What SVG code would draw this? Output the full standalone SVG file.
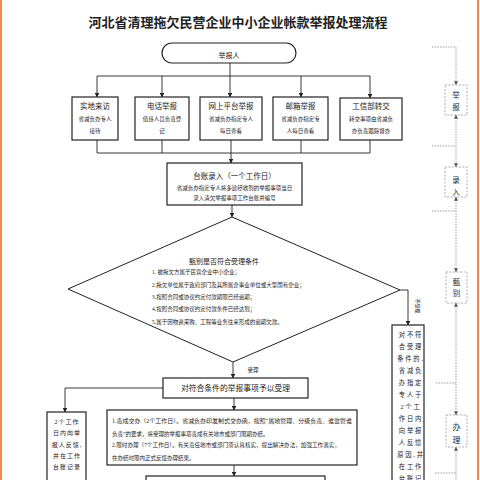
<svg xmlns="http://www.w3.org/2000/svg" width="480" height="480" viewBox="0 0 480 480">
<defs>
<marker id="ah" viewBox="0 0 6 6" refX="5.5" refY="3" markerWidth="4.5" markerHeight="4.5" orient="auto-start-reverse" markerUnits="userSpaceOnUse">
<path d="M0,0 L6,3 L0,6 Z" fill="#222"/>
</marker>
<marker id="ahg" viewBox="0 0 6 6" refX="5.5" refY="3" markerWidth="4" markerHeight="4" orient="auto-start-reverse" markerUnits="userSpaceOnUse">
<path d="M0,0 L6,3 L0,6 Z" fill="#555"/>
</marker>
<style>
.box{fill:#fff;stroke:#222;stroke-width:1.2}
.ln{fill:none;stroke:#222;stroke-width:0.9}
.dl{fill:none;stroke:#777;stroke-width:0.7;stroke-dasharray:1.5 1.2}
.db{fill:#fff;stroke:#999;stroke-width:0.8;stroke-dasharray:2 1.5}
.t{font-family:"Liberation Serif","Noto Sans CJK SC",serif;fill:#222;text-anchor:middle}
.s{font-family:"Liberation Serif","Noto Sans CJK SC",serif;fill:#222;font-size:5.5px}
.h{font-size:7.5px}
.m{font-size:5.5px}
</style>
</defs>
<rect width="480" height="480" fill="#fff"/>
<line x1="1" y1="0" x2="1" y2="480" stroke="#f08a4b" stroke-width="2"/>
<line x1="478" y1="0" x2="478" y2="480" stroke="#f08a4b" stroke-width="2"/>

<text x="238" y="27" class="t" style="font-family:'Noto Sans CJK SC',sans-serif;font-size:13px;font-weight:bold">河北省清理拖欠民营企业中小企业帐款举报处理流程</text>

<g id="connectors">
<path class="ln" d="M230,63 V97" marker-end="url(#ah)"/>
<path class="ln" d="M97,76 H370"/>
<path class="ln" d="M97,76 V97" marker-end="url(#ah)"/>
<path class="ln" d="M162,76 V97" marker-end="url(#ah)"/>
<path class="ln" d="M301,76 V97" marker-end="url(#ah)"/>
<path class="ln" d="M370,76 V98" marker-end="url(#ah)"/>
<path class="ln" d="M97,140 V153 H370 V140"/>
<path class="ln" d="M162,140 V153"/>
<path class="ln" d="M301,140 V153"/>
<path class="ln" d="M231,140 V163" marker-end="url(#ah)"/>
<path class="ln" d="M232,205 V217" marker-end="url(#ah)"/>
<path class="ln" d="M400,290 H408 V325" marker-end="url(#ah)"/>
<path class="ln" d="M233,362 V378" marker-end="url(#ah)"/>
<path class="ln" d="M163,388 H65 V412" marker-end="url(#ah)"/>
<path class="ln" d="M234,398 V410" marker-end="url(#ah)"/>
<path class="ln" d="M234,465 V476" marker-end="url(#ah)"/>
<text x="253" y="372" class="t m">受理</text>
<text x="0" y="0" class="t" style="font-size:5px" transform="translate(416,306) rotate(90)">不受理</text>

<path class="dl" d="M432,47 H456 V85" marker-end="url(#ahg)"/>
<path class="dl" d="M456,115 V167" marker-start="url(#ahg)" marker-end="url(#ahg)"/>
<path class="dl" d="M432,146 H456"/>
<path class="dl" d="M456,197 V272" marker-start="url(#ahg)" marker-end="url(#ahg)"/>
<path class="dl" d="M432,211 H456"/>
<path class="dl" d="M456,303 V415" marker-start="url(#ahg)" marker-end="url(#ahg)"/>
<path class="dl" d="M436,383 H456"/>
<path class="dl" d="M456,447 V482" marker-start="url(#ahg)"/>
<path class="dl" d="M435,473 H456"/>
</g>

<g id="reporter">
<rect x="162" y="43" width="134" height="20" rx="10" class="box"/>
<text x="229" y="57.5" class="t" style="font-size:7px">举报人</text>
</g>

<g id="visit">
<rect x="72" y="97" width="46" height="43" class="box"/>
<text x="95" y="109" class="t h">实地来访</text>
<text x="95" y="120.5" class="t m">省减负办专人</text>
<text x="95" y="133" class="t m">接待</text>
</g>
<g id="phone">
<rect x="135" y="97" width="54" height="43" class="box"/>
<text x="162" y="109" class="t h">电话举报</text>
<text x="162" y="120.5" class="t m">值班人员负责登</text>
<text x="162" y="133" class="t m">记</text>
</g>
<g id="online">
<rect x="200" y="97" width="62" height="43" class="box"/>
<text x="231" y="109" class="t h">网上平台举报</text>
<text x="231" y="120.5" class="t m">省减负办指定专人</text>
<text x="231" y="133" class="t m">每日查看</text>
</g>
<g id="mail">
<rect x="273" y="97" width="55" height="43" class="box"/>
<text x="300.5" y="109" class="t h">邮箱举报</text>
<text x="300.5" y="120.5" class="t m">省减负办指定专</text>
<text x="300.5" y="133" class="t m">人每日查看</text>
</g>
<g id="miit">
<rect x="340" y="98" width="62" height="42" class="box"/>
<text x="371" y="109" class="t h">工信部转交</text>
<text x="371" y="120.5" class="t m">转交事项由省减负</text>
<text x="371" y="133" class="t m">办负责跟踪督办</text>
</g>

<g id="ledger">
<rect x="167" y="163" width="135" height="42" class="box"/>
<text x="234.5" y="179" class="t h">台账录入（一个工作日）</text>
<text x="234.5" y="189.5" class="t m">省减负办指定专人将多途径收到的举报事项当日</text>
<text x="234.5" y="199.5" class="t m">录入清欠举报事项工作台账并编号</text>
</g>

<g id="screen">
<path d="M232,217 L400,290 L233,362 L68,289 Z" fill="#fff" stroke="#222" stroke-width="1"/>
<text x="224" y="264" class="t" style="font-size:7px">甄别是否符合受理条件</text>
<text x="152" y="274" class="s">1. 被拖欠方属于民营企业中小企业；</text>
<text x="152" y="287" class="s">2.拖欠单位属于政府部门及其所属企事业单位或大型国有企业；</text>
<text x="152" y="299" class="s">3.按照合同或协议约定付款期限已经逾期；</text>
<text x="152" y="311" class="s">4.按照合同或协议约定付款条件已经达到；</text>
<text x="152" y="323.5" class="s">5.属于因物资采购、工程等业务往来形成的逾期欠款。</text>
</g>

<g id="reject">
<rect x="392" y="325" width="32" height="160" class="box"/>
<g class="t" style="font-size:6.3px;letter-spacing:1.8px">
<text x="411" y="336.5">对不符</text>
<text x="411" y="348.5">合受理</text>
<text x="411" y="360.5">条件的,</text>
<text x="411" y="372.5">省减负</text>
<text x="411" y="384.5">办指定</text>
<text x="411" y="396.5">专人于</text>
<text x="411" y="408.5">2个工</text>
<text x="411" y="420.5">作日内</text>
<text x="411" y="432.5">向举报</text>
<text x="411" y="444.5">人反馈</text>
<text x="411" y="456.5">原因,并</text>
<text x="411" y="468.5">在工作</text>
<text x="411" y="480.5">台账记</text>
</g>
</g>

<g id="accept">
<rect x="163" y="378" width="145" height="20" class="box"/>
<text x="235.5" y="391" class="t" style="font-size:7.8px">对符合条件的举报事项予以受理</text>
</g>

<g id="feedback">
<rect x="47" y="412" width="39" height="75" class="box"/>
<g class="t" style="font-size:6px;letter-spacing:1px">
<text x="67" y="423.5">2个工作</text>
<text x="67" y="434.5">日内向举</text>
<text x="67" y="446.5">报人反馈,</text>
<text x="67" y="457.5">并在工作</text>
<text x="67" y="468.5">台账记录</text>
</g>
</g>

<g id="handle">
<rect x="107" y="410" width="250" height="55" class="box"/>
<text x="112" y="422.5" class="s" textLength="240" lengthAdjust="spacingAndGlyphs">1.责成交办（2个工作日）。省减负办印发制式交办函，按照“属地管理、分级负责、谁监管谁</text>
<text x="112" y="435.5" class="s">负责”的要求，将受理的举报事项责成有关地市或部门限期办结。</text>
<text x="112" y="447" class="s" textLength="228" lengthAdjust="spacingAndGlyphs">2.限时办理（7个工作日）。有关责任地市或部门须认真核实，提出解决办法，加强工作落实，</text>
<text x="112" y="460" class="s">在办结时限内正式反馈办理结果。</text>
</g>

<g id="next">
<rect x="146" y="476" width="179" height="12" class="box"/>
</g>

<g id="col-report">
<rect x="445" y="85" width="22" height="30" class="db"/>
<text x="456" y="98" class="t" style="font-size:7.5px">举</text>
<text x="456" y="110" class="t" style="font-size:7.5px">报</text>
</g>
<g id="col-entry">
<rect x="445" y="167" width="22" height="30" class="db"/>
<text x="456" y="183" class="t" style="font-size:7.5px">录</text>
<text x="456" y="195" class="t" style="font-size:7.5px">入</text>
</g>
<g id="col-screen">
<rect x="446" y="272" width="21" height="31" class="db"/>
<text x="456.5" y="285" class="t" style="font-size:7.5px">甄</text>
<text x="456.5" y="296" class="t" style="font-size:7.5px">别</text>
</g>
<g id="col-handle">
<rect x="446" y="415" width="21" height="32" class="db"/>
<text x="456.5" y="430" class="t" style="font-size:8px">办</text>
<text x="456.5" y="443" class="t" style="font-size:8px">理</text>
</g>
</svg>
